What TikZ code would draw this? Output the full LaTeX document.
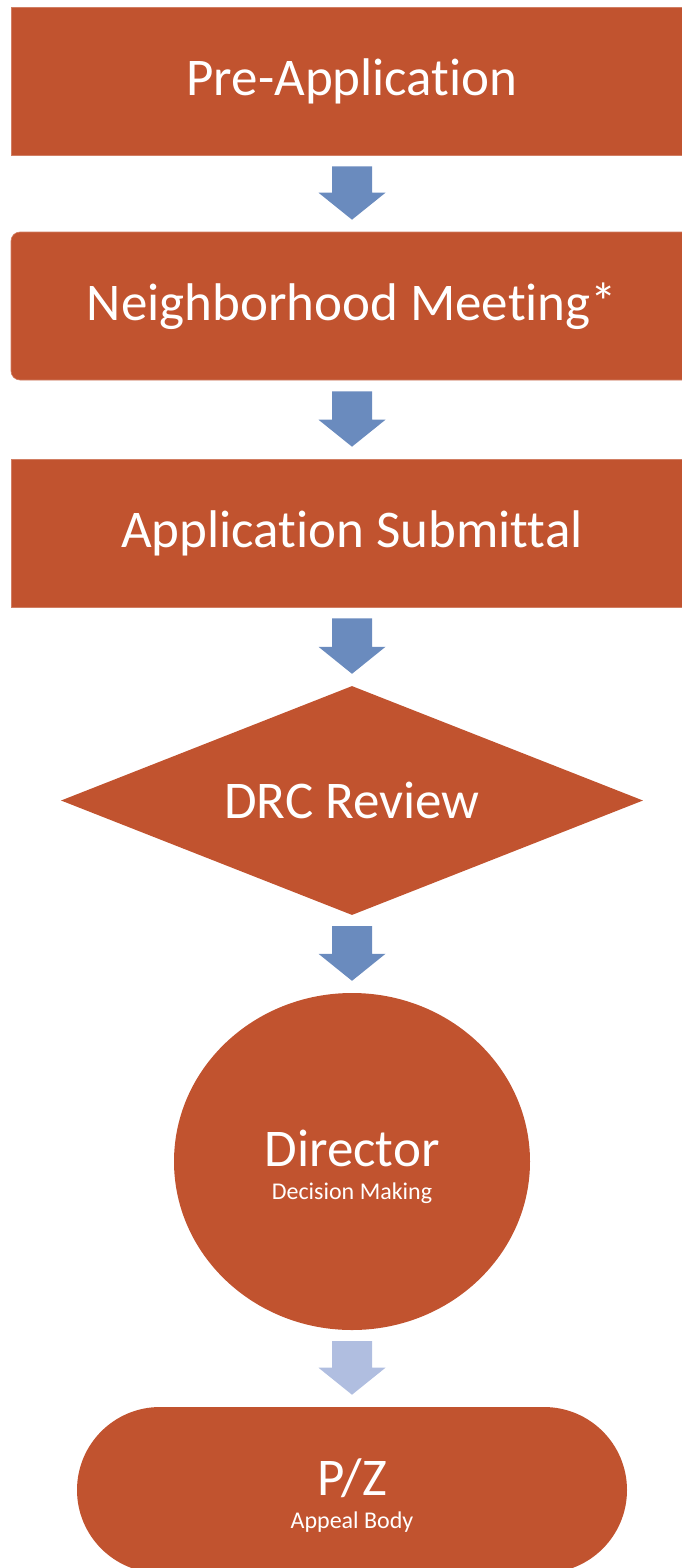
\documentclass[tikz,border=0pt]{standalone}
\usepackage{fontspec}
\setmainfont{Carlito}[Ligatures=NoCommon]
\usepackage{xcolor}
\usetikzlibrary{
    positioning,
    calc,
    shapes.geometric
}
\definecolor{stepfill}{HTML}{C1532F}
\definecolor{arrowblue}{HTML}{6A8BBE}
\definecolor{arrowpale}{HTML}{B0BEE0}
\newcommand{\subtext}{\fontsize{24}{28}\selectfont}
\newcommand{\toppad}{\rule{0pt}{48pt}}
\tikzset{
    stepbox/.style={
        fill=stepfill,
        draw=stepfill!75!white,
        line width=0.6pt,
        minimum width=682pt,
        minimum height=148pt,
        align=center,
        text=white,
        font=\fontsize{53}{60}\selectfont
    }
}
\tikzset{
    decision/.style={
        diamond,
        aspect=2.54,
        fill=stepfill,
        inner sep=0pt,
        minimum width=582pt,
        minimum height=229pt,
        text=white,
        font=\fontsize{53}{60}\selectfont
    }
}
\tikzset{
    blockarrow/.style={
        fill=arrowblue
    }
}
% block arrow from the bottom of #2 down to the top of #3
\newcommand{\flowarrow}[3][]{
    \fill[blockarrow,#1] ($(#2.south)+(-20,11)$) -- ($(#2.south)+(20,11)$)
        -- ($(#3.north)+(20,-39)$) -- ($(#3.north)+(33.5,-39)$)
        -- ($(#3.north)+(0,-12)$) -- ($(#3.north)+(-33.5,-39)$)
        -- ($(#3.north)+(-20,-39)$) -- cycle;
}

\begin{document}
\begin{tikzpicture}[x=1pt, y=-1pt]

\useasboundingbox (0,0) rectangle (682,1568);
\clip (0,0) rectangle (682,1568);

% ------------------------------------------------------------
% Steps
% ------------------------------------------------------------

\node[stepbox] (pre) at (352,81) {Pre-Application};
\node[stepbox, rounded corners=9pt] (meet) at (352,306) {Neighborhood Meeting*};
\node[stepbox] (submit) at (352,533) {Application Submittal};
\node[decision] (drc) at (352,800.5) {DRC Review};
\node[ellipse, fill=stepfill, text=white, align=center, inner sep=0pt,
      minimum width=356pt, minimum height=337pt,
      font=\fontsize{53}{60}\selectfont] (dir) at (352,1161.5)
    {\toppad Director\\[-27pt]{\subtext Decision Making}};
\node[stepbox, draw=none, rounded corners=83pt, minimum width=550pt, minimum height=166pt]
    (pz) at (352,1490) {\toppad P/Z\\[-27pt]{\subtext Appeal Body}};

% ------------------------------------------------------------
% Arrows
% ------------------------------------------------------------

\flowarrow{pre}{meet}
\flowarrow{meet}{submit}
\flowarrow{submit}{drc}
\flowarrow{drc}{dir}
\flowarrow[fill=arrowpale]{dir}{pz}

\end{tikzpicture}
\end{document}
